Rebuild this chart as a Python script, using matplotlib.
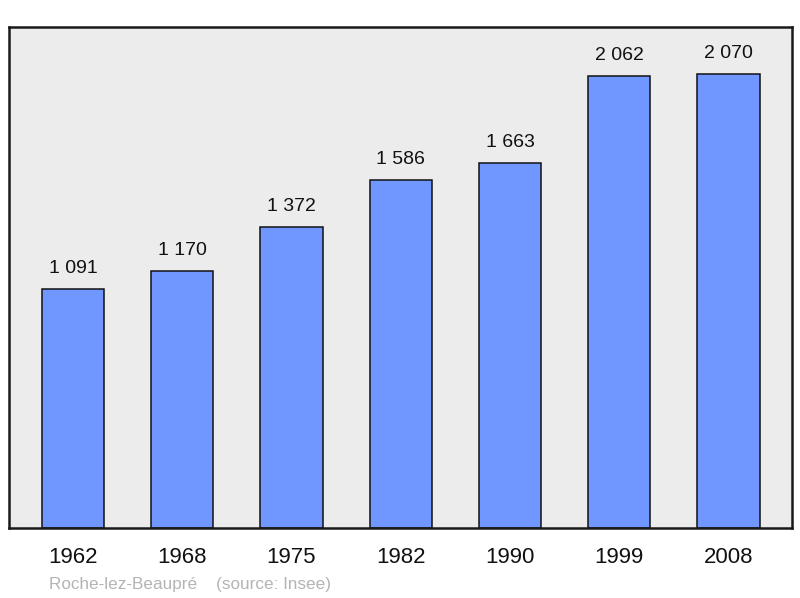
import matplotlib
matplotlib.use("Agg")
from matplotlib import pyplot as plt

plt.rcParams["font.family"] = ["Liberation Sans", "DejaVu Sans"]

years = ["1962", "1968", "1975", "1982", "1990", "1999", "2008"]
population = [1091, 1170, 1372, 1586, 1663, 2062, 2070]
labels = ["1 091", "1 170", "1 372", "1 586", "1 663", "2 062", "2 070"]

fig = plt.figure(figsize=(8.0, 5.98), dpi=100, facecolor="white")
ax = fig.add_axes([9 / 800, 70 / 598, 783 / 800, 501 / 598], facecolor="#ececec")

x = list(range(len(years)))
ax.bar(x, population, width=0.57, color="#7096ff", edgecolor="#111111",
       linewidth=1.1, zorder=2)

for xi, v, lab in zip(x, population, labels):
    ax.annotate(lab, (xi, v), xytext=(0, 11.5), textcoords="offset points",
                ha="center", va="baseline", fontsize=14, color="#111111")

ax.set_xlim(-0.585, 6.58)
ax.set_ylim(0, 2284)
ax.set_xticks(x)
ax.set_xticklabels(years, fontsize=16, color="#111111")
ax.tick_params(axis="x", length=0, pad=13.5)
ax.set_yticks([])
for s in ax.spines.values():
    s.set_linewidth(1.8)
    s.set_color("#1a1a1a")

fig.text(49 / 800, 1 - 584 / 598, "Roche-lez-Beaupré    (source: Insee)",
         fontsize=12.3, color="#b4b4b4", ha="left", va="center")

fig.savefig("out.png", dpi=100, facecolor=fig.get_facecolor())
